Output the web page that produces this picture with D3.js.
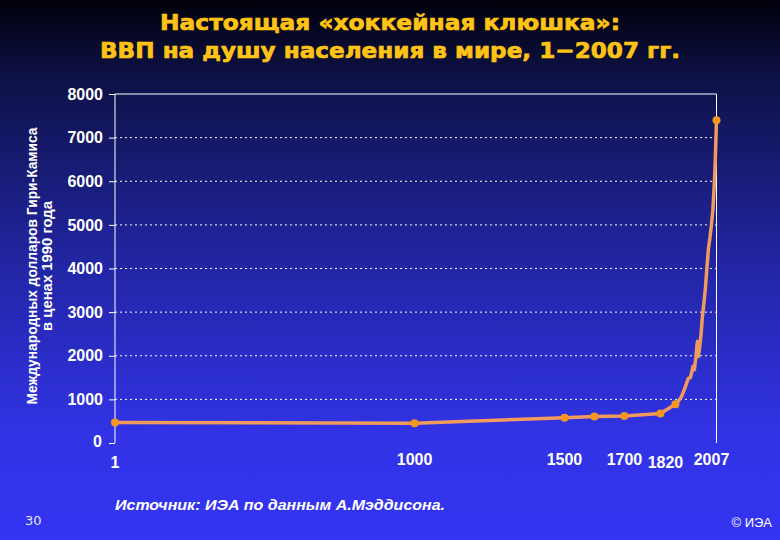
<!DOCTYPE html>
<html>
<head>
<meta charset="utf-8">
<script src="https://cdn.jsdelivr.net/npm/d3@7"></script>
<style>
  html, body { margin: 0; padding: 0; background: #000; }
  svg { display: block; }
</style>
</head>
<body>
<div id="chart"></div>
<script>
// World GDP per capita, Geary-Khamis 1990 $
const years = [1, 1000, 1500, 1600, 1700, 1820, 1870, 1880, 1890, 1900, 1913, 1920, 1929, 1933, 1938, 1942, 1944, 1946, 1950, 1955, 1960, 1965, 1970, 1975, 1980, 1985, 1990, 1995, 2000, 2003, 2007];
const gdp   = [470, 455, 580, 605, 620, 675, 890, 960, 1060, 1230, 1480, 1500, 1760, 1680, 1950, 2250, 2330, 1980, 2150, 2450, 2900, 3200, 3550, 4000, 4450, 4700, 5000, 5350, 6000, 6500, 7400];
const markerYears = [1, 1000, 1500, 1600, 1700, 1820, 1870, 2007];
const xTickLabels = [1, 1000, 1500, 1700, 1820, 2007];
const yTicks = [0, 1000, 2000, 3000, 4000, 5000, 6000, 7000, 8000];

const titleLines = ["Настоящая «хоккейная клюшка»:", "ВВП на душу населения в мире, 1\u22122007 гг."];
const yTitleLines = ["Международных долларов Гири-Камиса", "в ценах 1990 года"];

const width = 780, height = 540;
const margin = {top: 94, right: 63.5, bottom: 97, left: 115};

const data = years.map((y, i) => ({year: y, value: gdp[i]}));
const markers = data.filter(d => markerYears.includes(d.year));

const svg = d3.select("#chart").append("svg")
  .attr("width", width)
  .attr("height", height);

const grad = svg.append("defs").append("linearGradient")
  .attr("id", "bg")
  .attr("x1", 0).attr("y1", 0).attr("x2", 0).attr("y2", 1);
grad.append("stop").attr("offset", "0%").attr("stop-color", "#01010a");
grad.append("stop").attr("offset", "15%").attr("stop-color", "#0e1248");
grad.append("stop").attr("offset", "50%").attr("stop-color", "#2226a6");
grad.append("stop").attr("offset", "80%").attr("stop-color", "#3133e4");
grad.append("stop").attr("offset", "100%").attr("stop-color", "#3434f2");

svg.append("rect")
  .attr("width", width)
  .attr("height", height)
  .attr("fill", "url(#bg)");

const x = d3.scaleLinear()
  .domain([1, 2007])
  .range([margin.left, width - margin.right]);

const y = d3.scaleLinear()
  .domain([0, 8000])
  .range([height - margin.bottom, margin.top]);

// title
svg.append("g")
  .selectAll("text")
  .data(titleLines)
  .join("text")
    .attr("x", width / 2)
    .attr("y", (d, i) => 30 + i * 28)
    .attr("text-anchor", "middle")
    .attr("textLength", (d, i) => i === 0 ? 460 : 580)
    .attr("lengthAdjust", "spacingAndGlyphs")
    .style("font", "bold 22px 'DejaVu Sans', sans-serif")
    .style("fill", "#ffc314")
    .style("stroke", "#ffc314")
    .style("stroke-width", 0.7)
    .text(d => d);

// gridlines
svg.append("g")
  .selectAll("line")
  .data(yTicks.filter(t => t > 0 && t < 8000))
  .join("line")
    .attr("x1", x(1))
    .attr("x2", x(2007))
    .attr("y1", d => y(d))
    .attr("y2", d => y(d))
    .attr("stroke", "#ffffff")
    .attr("stroke-width", 1)
    .attr("stroke-dasharray", "2,3");

// frame: left axis, top and right
const frame = svg.append("g").attr("stroke", "#ffffff").attr("stroke-width", 1).attr("fill", "none");
frame.append("path")
  .attr("d", `M${x(1)},${y(0)}V${y(8000)}H${x(2007)}V${y(0)}`);

const yAxis = g => g
  .attr("transform", `translate(${x(1)},0)`)
  .call(d3.axisLeft(y).tickValues(yTicks).tickSize(6).tickPadding(6).tickFormat(d3.format("d")))
  .call(g => g.select(".domain").remove())
  .call(g => g.selectAll(".tick line").attr("stroke", "#ffffff"))
  .call(g => g.selectAll(".tick text")
    .attr("fill", "#ffffff")
    .style("font", "bold 16px 'Liberation Sans', Arial, sans-serif"));

svg.append("g").call(yAxis);
svg.selectAll(".tick text").filter(d => d === 0).attr("dy", "0.2em").attr("x", -13);

// x labels, nudged like the original slide
const labelShift = {1820: 5, 2007: -5};
svg.append("g")
  .selectAll("text")
  .data(xTickLabels)
  .join("text")
    .attr("x", d => x(d) + (labelShift[d] || 0))
    .attr("y", d => (d === 1 || d === 1820) ? 468 : 465)
    .attr("text-anchor", "middle")
    .style("font", "bold 16px 'Liberation Sans', Arial, sans-serif")
    .style("fill", "#ffffff")
    .text(d => d);

// y title
svg.append("g")
  .selectAll("text")
  .data(yTitleLines)
  .join("text")
    .attr("transform", (d, i) => `translate(${37 + i * 15},266) rotate(-90)`)
    .attr("text-anchor", "middle")
    .attr("textLength", (d, i) => i === 0 ? 277 : 130)
    .attr("lengthAdjust", "spacingAndGlyphs")
    .style("font", "bold 14px 'Liberation Sans', Arial, sans-serif")
    .style("fill", "#ffffff")
    .text(d => d);

// line
const line = d3.line()
  .x(d => x(d.year))
  .y(d => y(d.value));

svg.append("path")
  .datum(data)
  .attr("d", line)
  .attr("fill", "none")
  .attr("stroke", "#f09a5e")
  .attr("stroke-width", 3.5)
  .attr("stroke-linejoin", "round");

svg.append("g")
  .selectAll("circle")
  .data(markers)
  .join("circle")
    .attr("cx", d => x(d.year))
    .attr("cy", d => y(d.value))
    .attr("r", 4)
    .attr("fill", "#f7961e");

// footer
svg.append("text")
  .attr("x", 115)
  .attr("y", 510)
  .attr("textLength", 330)
  .attr("lengthAdjust", "spacingAndGlyphs")
  .style("font", "italic bold 14px 'Liberation Sans', Arial, sans-serif")
  .style("fill", "#ffffff")
  .text("Источник: ИЭА по данным А.Мэддисона.");

svg.append("text")
  .attr("x", 25)
  .attr("y", 525)
  .style("font", "13px 'DejaVu Sans', sans-serif")
  .style("fill", "#e6e6f4")
  .text("30");

svg.append("text")
  .attr("x", 772)
  .attr("y", 527)
  .attr("text-anchor", "end")
  .style("font", "13px 'Liberation Sans', Arial, sans-serif")
  .style("fill", "#ffffff")
  .text("© ИЭА");
</script>
</body>
</html>
